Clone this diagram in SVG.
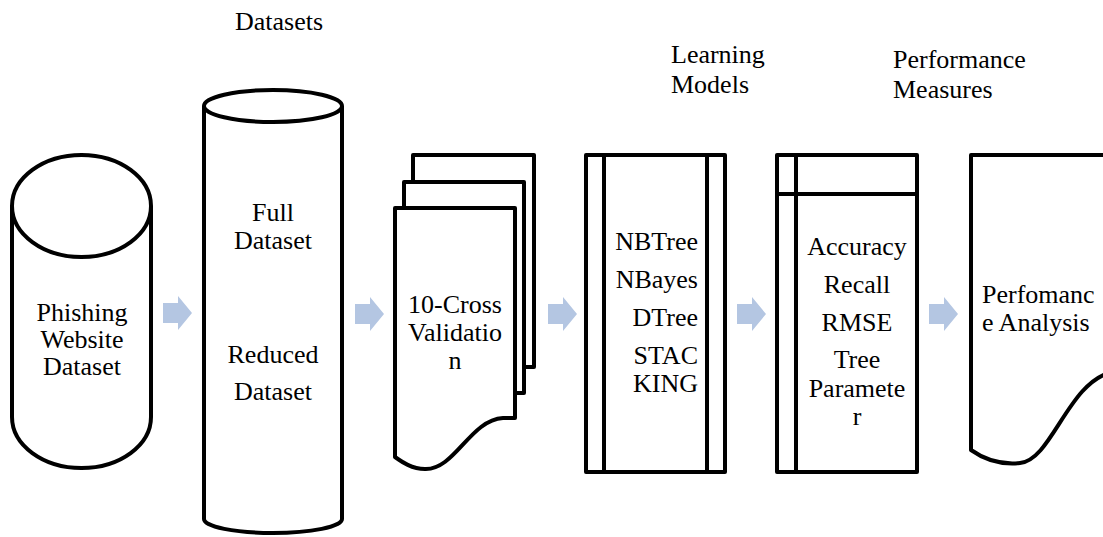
<svg xmlns="http://www.w3.org/2000/svg" width="1103" height="537" viewBox="0 0 1103 537">
  <style>
    .shape { fill: #ffffff; stroke: #000000; stroke-width: 4; stroke-linejoin: round; }
    .line { fill: none; stroke: #000000; stroke-width: 4; }
    text { font-family: 'Liberation Serif', 'Times New Roman', Times, serif; font-size: 26px; fill: #000000; }
    .mid { text-anchor: middle; }
    .end { text-anchor: end; }
    .flow { fill: #b4c6e2; }
  </style>
  <defs>
    <!-- block arrow between stages, origin at the tail's left edge on the centre line -->
    <path id="blockArrow" class="flow" d="M0,-10 H15 V-17 L29,0 L15,17 V10 H0 Z"/>
  </defs>

  <rect x="0" y="0" width="1103" height="537" fill="#ffffff"/>

  <g font-family="Liberation Serif, serif" font-size="26">
    <!-- stage headings -->
    <g id="headings">
      <text x="235" y="30">Datasets</text>
      <text x="671" y="63">Learning</text>
      <text x="671" y="93">Models</text>
      <text x="893" y="68">Performance</text>
      <text x="893" y="98">Measures</text>
    </g>

    <!-- source dataset cylinder -->
    <g id="phishing-dataset">
      <path class="shape" d="M12,206 V417 A69.5,51 0 0 0 151,417 V206"/>
      <ellipse class="shape" cx="81.5" cy="206" rx="69.5" ry="51"/>
      <text class="mid" x="82" y="321">Phishing</text>
      <text class="mid" x="82" y="348">Website</text>
      <text class="mid" x="82" y="375">Dataset</text>
    </g>

    <!-- full / reduced dataset cylinder -->
    <g id="datasets">
      <path class="shape" d="M204,106 V519 A69,14 0 0 0 342,519 V106"/>
      <ellipse class="shape" cx="273" cy="106" rx="69" ry="16"/>
      <text class="mid" x="273" y="221">Full</text>
      <text class="mid" x="273" y="249">Dataset</text>
      <text class="mid" x="273" y="363">Reduced</text>
      <text class="mid" x="273" y="400">Dataset</text>
    </g>

    <!-- stacked documents for cross validation -->
    <g id="cross-validation">
      <rect class="shape" x="413" y="155" width="121" height="212"/>
      <rect class="shape" x="404" y="182" width="120" height="211"/>
      <path class="shape" d="M395,208 H515 V418 H503 C470,420 455,470 425,469 C412,469 402,462 395,457 Z"/>
      <text class="mid" x="455" y="313">10-Cross</text>
      <text class="mid" x="455" y="341">Validatio</text>
      <text class="mid" x="455" y="369">n</text>
    </g>

    <!-- learning models (predefined process) -->
    <g id="learning-models">
      <rect class="shape" x="586" y="155" width="139" height="317"/>
      <path class="line" d="M604,155 V472 M707,155 V472"/>
      <text class="end" x="698" y="250">NBTree</text>
      <text class="end" x="698" y="288">NBayes</text>
      <text class="end" x="698" y="326">DTree</text>
      <text class="end" x="698" y="364">STAC</text>
      <text class="end" x="698" y="392">KING</text>
    </g>

    <!-- performance measures (internal storage) -->
    <g id="performance-measures">
      <rect class="shape" x="777" y="155" width="140" height="317"/>
      <path class="line" d="M796,155 V472 M777,194 H917"/>
      <text class="mid" x="857" y="255">Accuracy</text>
      <text class="mid" x="857" y="293">Recall</text>
      <text class="mid" x="857" y="331">RMSE</text>
      <text class="mid" x="857" y="368">Tree</text>
      <text class="mid" x="857" y="397">Paramete</text>
      <text class="mid" x="857" y="425">r</text>
    </g>

    <!-- performance analysis document -->
    <g id="performance-analysis">
      <path class="shape" d="M1112,155 H971 V450 C985,460 1000,465 1020,463 C1052,460 1068,382 1112,372"/>
      <text x="982" y="303">Perfomanc</text>
      <text x="982" y="331">e Analysis</text>
    </g>
  </g>

  <!-- flow arrows -->
  <g id="connectors">
    <use href="#blockArrow" x="163" y="313"/>
    <use href="#blockArrow" x="355" y="314"/>
    <use href="#blockArrow" x="548" y="314"/>
    <use href="#blockArrow" x="737" y="314"/>
    <use href="#blockArrow" x="929" y="314"/>
  </g>
</svg>
